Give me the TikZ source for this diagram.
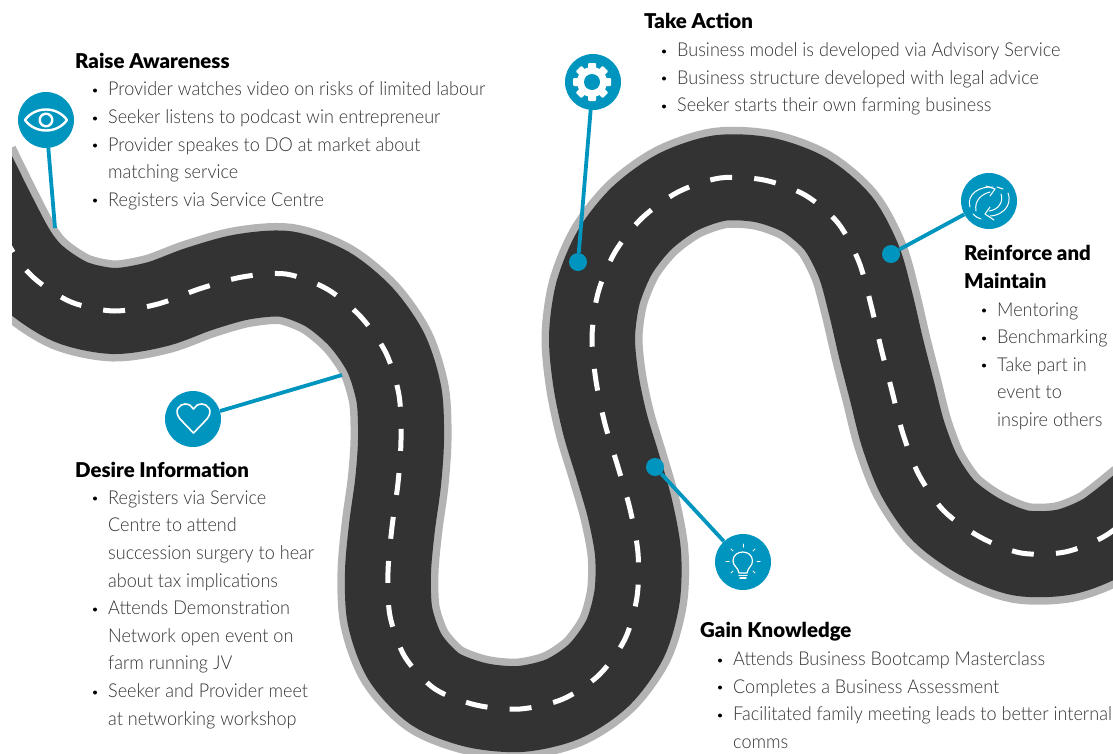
\documentclass[tikz,border=0pt]{standalone}
\usepackage{fontspec}
\setmainfont[FakeStretch=0.945]{Lato Light}
\newfontfamily\headfont{Lato Black}
\usetikzlibrary{calc}
\definecolor{pinblue}{HTML}{0095BE}
\definecolor{roaddark}{HTML}{333333}
\definecolor{roadgrey}{HTML}{B3B3B3}
\definecolor{txt}{HTML}{333333}
\tikzset{
  x=1pt,y=-1pt,
  pin/.style={circle,fill=pinblue,minimum size=56pt,inner sep=0pt},
  dot/.style={circle,fill=pinblue,minimum size=18pt,inner sep=0pt},
  link/.style={draw=pinblue,line width=3.8pt},
  icon/.style={draw=white,line width=1.6pt,line join=round},
  thinicon/.style={draw=white,line width=1pt,line cap=round},
  head/.style={anchor=base west,inner sep=0pt,text=black,font=\headfont\fontsize{20.4}{20.4}\selectfont},
  line/.style={anchor=base west,inner sep=0pt,text=txt,font=\fontsize{19.1}{19.1}\selectfont},
  bul/.style={circle,fill=black,minimum size=4pt,inner sep=0pt}
}
\def\roadpath{plot[smooth,tension=0.5] coordinates {(-30,168) (10,247) (34,278) (71,302) (114,311) (158,304) (199,289) (242,277) (286,274) (327,289) (361,317) (386,353) (399,395) (401,440) (398,483) (392,527) (388,572) (390,616) (405,657) (435,689) (476,705) (520,709) (563,699) (599,675) (625,639) (637,597) (638,553) (630,509) (618,467) (605,424) (596,381) (592,337) (598,293) (615,252) (642,218) (678,192) (720,178) (764,180) (805,195) (838,223) (859,262) (871,305) (881,348) (892,391) (903,434) (919,475) (944,511) (980,537) (1021,553) (1065,552) (1105,536) (1145,505)}}
\begin{document}
\begin{tikzpicture}
\useasboundingbox (0,0) rectangle (1113,753);
\begin{scope}
\clip (12,0) rectangle (1113,753);
\draw[roadgrey,line width=101pt] \roadpath;
\draw[roaddark,line width=86pt] \roadpath;
\draw[white,line width=5pt,dash pattern=on 22pt off 22.24pt,dash phase=15.8pt] \roadpath;
\end{scope}
% pins
\node[pin] (eye) at (46,120) {};
\node[pin] (gear) at (593,82) {};
\node[pin] (cycle) at (989,201) {};
\node[pin] (bulb) at (743,562) {};
\node[pin] (heart) at (193,419) {};
\node[dot] (d1) at (578,262) {};
\node[dot] (d2) at (891,254) {};
\node[dot] (d3) at (655,467) {};
\coordinate (e1) at (55,228);
\coordinate (e2) at (342,375);
\draw[link] (eye) -- (e1);
\draw[link] (heart) -- (e2);
\draw[link] (gear) -- (d1);
\draw[link] (cycle) -- (d2);
\draw[link] (bulb) -- (d3);
% eye icon
\draw[icon,line width=2.4pt] (25,120) .. controls (35,106) and (57,106) .. (67,120) .. controls (57,134) and (35,134) .. cycle;
\draw[icon,line width=2.4pt] (46,120) circle (6.3);
% gear icon
\foreach \a in {0,45,...,315}{\fill[white,rounded corners=1pt,rotate around={\a:(592,82)}] (588,63) rectangle (596,72);}
\fill[white] (592,82) circle (15);
\fill[pinblue] (592,82) circle (8);
% cycle icon
\draw[thinicon] (970,207) .. controls (966,194) and (980,186) .. (993,187);
\draw[thinicon] (976,211) .. controls (974,200) and (982,194) .. (990,192);
\draw[thinicon] (986,186) -- (995,189) -- (990,196);
\draw[thinicon] (1008,193) .. controls (1013,207) and (1000,216) .. (990,216);
\draw[thinicon] (1001,194) .. controls (1004,202) and (998,210) .. (989,211);
\draw[thinicon] (994,220) -- (985,214) -- (990,207);
\draw[thinicon] (973,214) .. controls (976,217) and (978,218) .. (981,219);
\draw[thinicon] (997,187) -- (1003,189);
% bulb icon
\draw[thinicon,line width=1.2pt] (739,573) .. controls (738,567) and (733,566) .. (733,561) .. controls (733,549) and (752.5,549) .. (752.5,561) .. controls (752.5,566) and (748,567) .. (747,573) -- cycle;
\draw[thinicon,line width=1.4pt] (739,575.5) -- (747,575.5) (740,578) -- (746,578);
\foreach \a in {-180,-135,-90,-45,0,45,135}{\draw[thinicon] ($(743,561)+(\a:14)$) -- ($(743,561)+(\a:17)$);}
% heart icon
\draw[icon,line width=1.6pt] (193.5,433) -- (180,419) .. controls (173,410) and (180,404) .. (185,404) .. controls (189,404) and (192,406) .. (193.5,409) .. controls (195,406) and (198,404) .. (202,404) .. controls (207,404) and (214,410) .. (207,419) -- cycle;
% texts
\begin{scope}[yshift=-0.5pt]
\node[head] (h1) at (75,67.5) {Raise Awareness};
\node[bul] (b1) at (95,90) {}; \node[line] (l1) at (108,95) {Provider watches video on risks of limited labour};
\node[bul] (b2) at (95,118) {}; \node[line] (l2) at (108,123) {Seeker listens to podcast win entrepreneur};
\node[bul] (b3) at (95,145) {}; \node[line] (l3) at (108,150.5) {Provider speakes to DO at market about};
\node[line] (l4) at (108,178) {matching service};
\node[bul] (b5) at (95,200) {}; \node[line] (l5) at (108,205.5) {Registers via Service Centre};
\node[head] (h2) at (644,27.5) {Take Action};
\node[bul] (b6) at (664,51) {}; \node[line] (l6) at (677,56) {Business model is developed via Advisory Service};
\node[bul] (b7) at (664,78) {}; \node[line] (l7) at (677,83.5) {Business structure developed with legal advice};
\node[bul] (b8) at (664,106) {}; \node[line] (l8) at (677,111) {Seeker starts their own farming business};
\node[head] (h3) at (964,259.5) {Reinforce and};
\node[head] (h3b) at (964,287.5) {Maintain};
\node[bul] (b9) at (984,310) {}; \node[line] (l9) at (997,315.5) {Mentoring};
\node[bul] (b10) at (984,338) {}; \node[line] (l10) at (997,343) {Benchmarking};
\node[bul] (b11) at (984,365) {}; \node[line] (l11) at (997,370.5) {Take part in};
\node[line] (l12) at (997,398) {event to};
\node[line] (l13) at (997,425.5) {inspire others};
\node[head] (h4) at (75,476.5) {Desire Information};
\node[bul] (b14) at (95,498) {}; \node[line] (l14) at (108,503.5) {Registers via Service};
\node[line] (l15) at (108,531) {Centre to attend};
\node[line] (l16) at (108,559) {succession surgery to hear};
\node[line] (l17) at (108,586.5) {about tax implications};
\node[bul] (b18) at (95,609) {}; \node[line] (l18) at (108,614) {Attends Demonstration};
\node[line] (l19) at (108,641.5) {Network open event on};
\node[line] (l20) at (108,669) {farm running JV};
\node[bul] (b21) at (95,692) {}; \node[line] (l21) at (108,697) {Seeker and Provider meet};
\node[line] (l22) at (108,724.5) {at networking workshop};
\node[head] (h5) at (700,637) {Gain Knowledge};
\node[bul] (b23) at (720,660) {}; \node[line] (l23) at (733,665) {Attends Business Bootcamp Masterclass};
\node[bul] (b24) at (720,687) {}; \node[line] (l24) at (733,692.5) {Completes a Business Assessment};
\node[bul] (b25) at (720,715) {}; \node[line] (l25) at (733,720) {Facilitated family meeting leads to better internal};
\node[line] (l26) at (733,747.5) {comms};
\end{scope}
\end{tikzpicture}
\end{document}
